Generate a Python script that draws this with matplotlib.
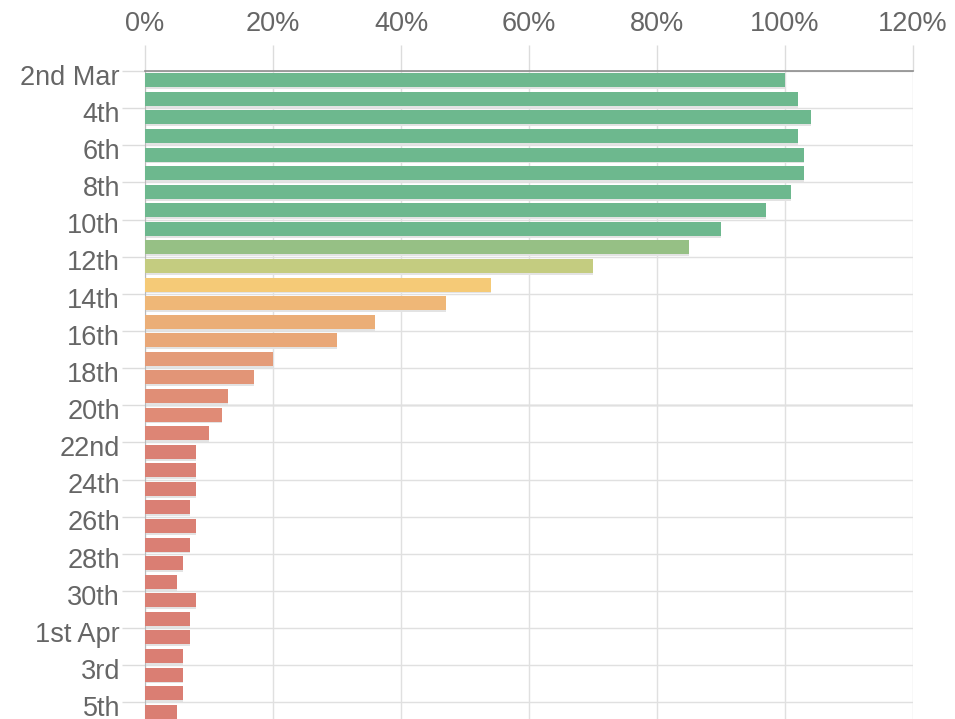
import numpy as np
import matplotlib.pyplot as plt
from matplotlib.colors import LinearSegmentedColormap
from matplotlib.ticker import FixedLocator, PercentFormatter

plt.rcParams['font.family'] = ['Liberation Sans', 'DejaVu Sans']

# one bar per day, 2nd March to 5th April
days = ["2nd Mar", "3rd", "4th", "5th", "6th", "7th", "8th", "9th", "10th", "11th",
        "12th", "13th", "14th", "15th", "16th", "17th", "18th", "19th", "20th", "21st",
        "22nd", "23rd", "24th", "25th", "26th", "27th", "28th", "29th", "30th", "31st",
        "1st Apr", "2nd", "3rd", "4th", "5th"]
pct = [100, 102, 104, 102, 103, 103, 101, 97, 90, 85,
       70, 54, 47, 36, 30, 20, 17, 13, 12, 10,
       8, 8, 8, 7, 8, 7, 6, 5, 8, 7,
       7, 6, 6, 6, 5]
xticks = [0, 20, 40, 60, 80, 100, 120]

# red -> yellow -> green depending on the value
cmap = LinearSegmentedColormap.from_list("traffic", [
    (0.00, "#d97a72"), (0.08, "#da8074"), (0.12, "#e08c76"), (0.20, "#e49b78"),
    (0.33, "#eaab77"), (0.47, "#efb777"), (0.54, "#f5ca77"), (0.70, "#c5cc80"),
    (0.85, "#97c085"), (0.90, "#6db88e"), (1.00, "#6db88e")])
colors = [cmap(min(v, 100) / 100) for v in pct]

fig = plt.figure(figsize=(9.55, 7.19), dpi=100)
ax = fig.add_axes([145 / 955, -2 / 719, 768 / 955, 650 / 719])

y = np.arange(len(days))
ax.barh(y + 0.1, pct, height=0.75, color="#e3e3e3", zorder=2)
ax.barh(y, pct, height=0.75, color=colors, zorder=3)

ax.set_xlim(0, 120)
ax.set_ylim(len(days) - 0.5, -0.5)

# percentage axis along the top
ax.xaxis.tick_top()
ax.set_xticks(xticks)
ax.xaxis.set_major_formatter(PercentFormatter(decimals=0))
ax.tick_params(axis="x", length=18.7, width=1, color="#dcdcdc", pad=6,
               labelsize=19.5, labelcolor="#666666")
ax.grid(axis="x", color="#e0e0e0", lw=1, zorder=0)

# date labels every other day, grid lines on the band edges
ax.yaxis.set_major_locator(FixedLocator(y[::2] - 0.3))
ax.set_yticklabels(days[::2])
ax.yaxis.set_minor_locator(FixedLocator(y[::2] - 0.5))
ax.tick_params(axis="y", which="major", length=0, pad=18,
               labelsize=19.5, labelcolor="#666666")
ax.tick_params(axis="y", which="minor", length=16.5, width=1, color="#dcdcdc")
ax.grid(axis="y", which="minor", color="#e0e0e0", lw=1, zorder=0)
ax.axhline(17.5, color="#b0b0b0", lw=1, zorder=1)

for side in ("right", "bottom"):
    ax.spines[side].set_visible(False)
ax.spines["top"].set_color("#8c8c8c")
ax.spines["top"].set_linewidth(1.2)
ax.spines["left"].set_color("#b8b8b8")

fig.savefig("out.png", dpi=100)
